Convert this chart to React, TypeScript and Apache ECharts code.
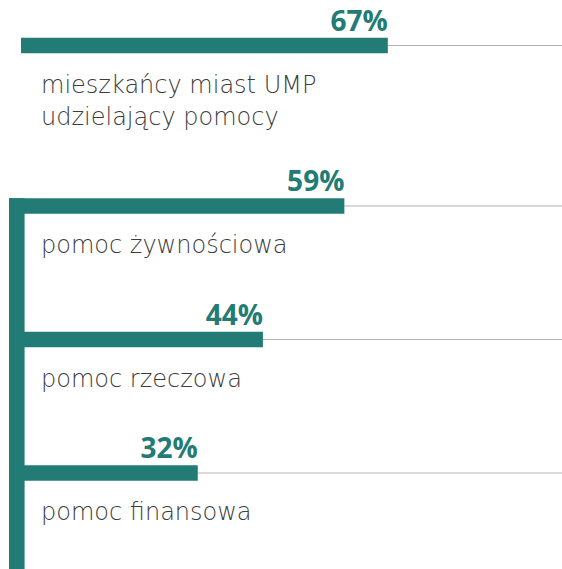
import React, { useEffect, useRef } from "react";
import * as echarts from "echarts";

const totalLabels = ["mieszkańcy miast UMP\nudzielający pomocy"];
const totalValues = [67];
const categories = ["pomoc żywnościowa", "pomoc rzeczowa", "pomoc finansowa"];
const values = [59, 44, 32];

const TEAL = "#237b75";
const GRAY_LINE = "#b3b3b3";
const TEXT = "#3c3c3c";

function makeRender(labels: string[], bracket: boolean) {
  return (params: any, api: any) => {
    const i = params.dataIndex;
    const v = api.value(0);
    const cat = api.value(1);
    const [x0, yc] = api.coord([0, cat]);
    const [xv] = api.coord([v, cat]);
    const [x100] = api.coord([100, cat]);
    const h = 15.6;
    const start = bracket ? x0 - 15 : x0 - 3;
    const children: any[] = [
      {
        type: "line",
        shape: { x1: xv, y1: yc, x2: x100 + 5, y2: yc },
        style: { stroke: GRAY_LINE, lineWidth: 1 },
      },
      {
        type: "rect",
        shape: { x: start, y: yc - h / 2, width: xv - start, height: h },
        style: { fill: TEAL },
      },
      {
        type: "text",
        x: xv,
        y: yc - h / 2 - 4,
        style: {
          text: v + "%",
          align: "right",
          verticalAlign: "bottom",
          fontFamily: "Open Sans",
          fontWeight: 700,
          fontSize: 28,
          fill: TEAL,
        },
      },
      {
        type: "text",
        x: x0 + 17,
        y: yc + 23,
        style: {
          text: labels[i],
          align: "left",
          verticalAlign: "top",
          fontFamily: "DejaVu Sans",
          fontWeight: 200,
          fontSize: 24,
          lineHeight: 32,
          fill: TEXT,
        },
      },
    ];
    if (bracket && i === 0) {
      children.push({
        type: "rect",
        shape: {
          x: x0 - 15,
          y: yc - h / 2,
          width: 15.6,
          height: api.getHeight() - (yc - h / 2) + 10,
        },
        style: { fill: TEAL },
      });
    }
    return { type: "group", children };
  };
}

export default function App() {
  const ref = useRef<HTMLDivElement>(null);
  useEffect(() => {
    if (!ref.current) return;
    const chart = echarts.init(ref.current, null, { renderer: "svg" });
    chart.setOption({
      animation: false,
      backgroundColor: "#ffffff",
      grid: [
        { left: 24, width: 543, top: 25, height: 41, outerBoundsMode: "none", containLabel: false },
        { left: 24, width: 543, top: 139.25, height: 400.5, outerBoundsMode: "none", containLabel: false },
      ],
      xAxis: [
        { type: "value", gridIndex: 0, min: 0, max: 100, show: false },
        { type: "value", gridIndex: 1, min: 0, max: 100, show: false },
      ],
      yAxis: [
        { type: "category", gridIndex: 0, data: totalLabels, show: false, inverse: true },
        { type: "category", gridIndex: 1, data: categories, show: false, inverse: true },
      ],
      series: [
        {
          type: "custom",
          xAxisIndex: 0,
          yAxisIndex: 0,
          clip: false,
          renderItem: makeRender(totalLabels, false),
          data: totalValues.map((v, i) => [v, i]),
        },
        {
          type: "custom",
          xAxisIndex: 1,
          yAxisIndex: 1,
          clip: false,
          renderItem: makeRender(categories, true),
          data: values.map((v, i) => [v, i]),
        },
      ],
    });
    return () => chart.dispose();
  }, []);
  return (
    <div
      ref={ref}
      style={{ position: "fixed", left: 0, top: 0, width: 562, height: 569 }}
    />
  );
}
